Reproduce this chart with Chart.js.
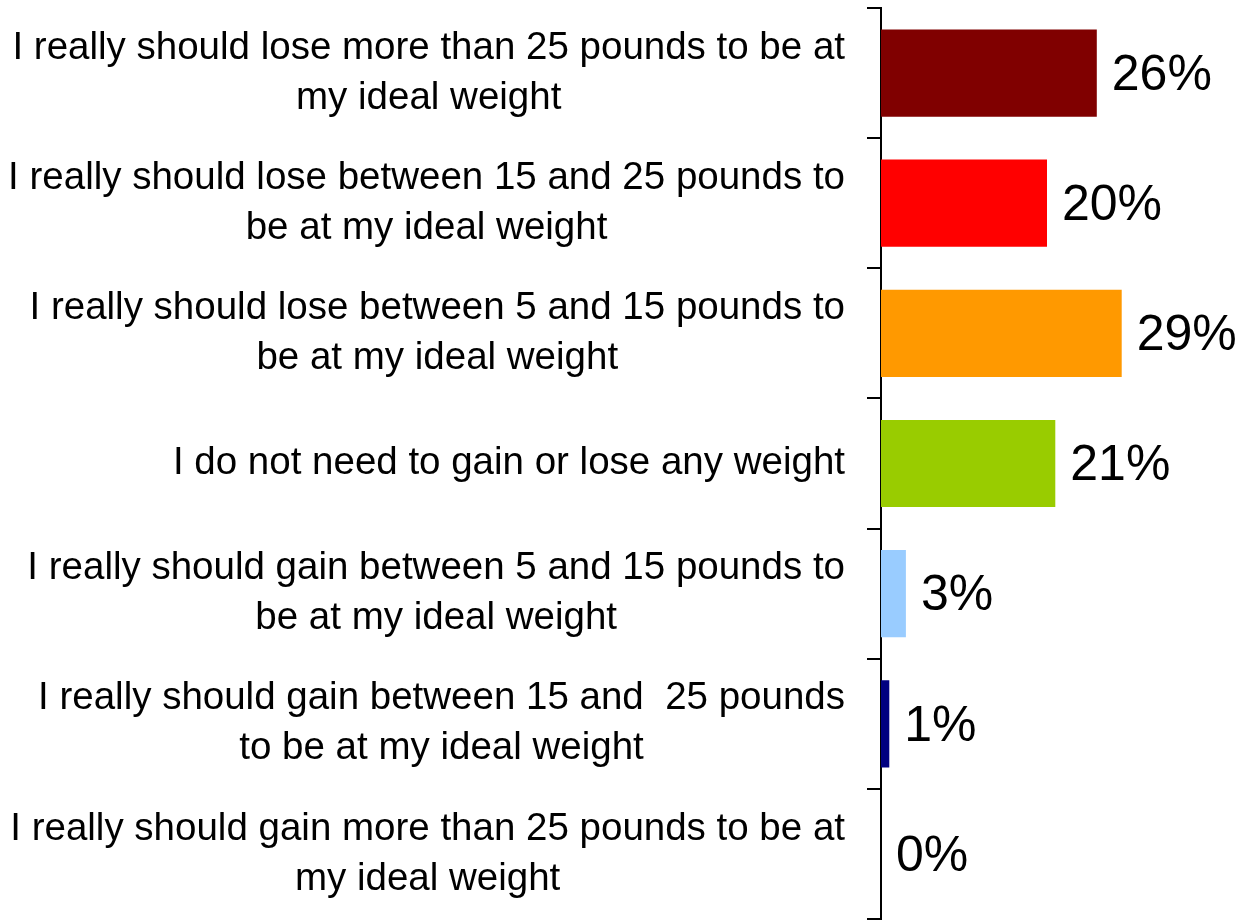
<!DOCTYPE html>
<html>
<head>
<meta charset="utf-8">
<script src="https://cdn.jsdelivr.net/npm/chart.js@4/dist/chart.umd.min.js"></script>
<style>
html,body{margin:0;padding:0;background:#fff;}
#wrap{width:1246px;height:921px;position:relative;}
</style>
</head>
<body>
<div id="wrap"><canvas id="c" width="1246" height="921"></canvas></div>
<script>
const categories = [
  ["I really should lose more than 25 pounds to be at", "my ideal weight"],
  ["I really should lose between 15 and 25 pounds to", "be at my ideal weight"],
  ["I really should lose between 5 and 15 pounds to", "be at my ideal weight"],
  ["I do not need to gain or lose any weight"],
  ["I really should gain between 5 and 15 pounds to", "be at my ideal weight"],
  ["I really should gain between 15 and  25 pounds", "to be at my ideal weight"],
  ["I really should gain more than 25 pounds to be at", "my ideal weight"]
];
const values = [26, 20, 29, 21, 3, 1, 0];
const valueLabels = ["26%", "20%", "29%", "21%", "3%", "1%", "0%"];
const barColors = ["#800000", "#FF0000", "#FF9900", "#99CC00", "#99CCFF", "#000080", "#666699"];

const FONT = '"Liberation Sans", Arial, sans-serif';

const categoryLabelPlugin = {
  id: 'categoryLabels',
  afterDraw(chart) {
    const ctx = chart.ctx;
    const scale = chart.scales.y;
    const rightEdge = scale.right - 14 - 22;
    const lh = 50;
    ctx.save();
    ctx.font = '38.5px ' + FONT;
    ctx.fillStyle = '#000';
    ctx.textAlign = 'center';
    ctx.textBaseline = 'middle';
    chart.data.labels.forEach((lines, i) => {
      const y = scale.getPixelForTick(i);
      const w = Math.max(...lines.map(l => ctx.measureText(l).width));
      const cx = rightEdge - w / 2;
      const y0 = y - (lines.length - 1) * lh / 2;
      lines.forEach((l, k) => ctx.fillText(l, cx, y0 + k * lh));
    });
    ctx.restore();
  }
};

const valueLabelPlugin = {
  id: 'valueLabels',
  afterDatasetsDraw(chart) {
    const ctx = chart.ctx;
    const meta = chart.getDatasetMeta(0);
    ctx.save();
    ctx.font = '50px ' + FONT;
    ctx.fillStyle = '#000';
    ctx.textAlign = 'left';
    ctx.textBaseline = 'middle';
    meta.data.forEach((bar, i) => {
      ctx.fillText(valueLabels[i], bar.x + 15, bar.y + 3);
    });
    ctx.restore();
  }
};

new Chart(document.getElementById('c'), {
  type: 'bar',
  data: {
    labels: categories,
    datasets: [{
      data: values,
      backgroundColor: barColors,
      borderWidth: 0,
      categoryPercentage: 1,
      barPercentage: 0.67
    }]
  },
  plugins: [valueLabelPlugin, categoryLabelPlugin],
  options: {
    indexAxis: 'y',
    responsive: false,
    animation: false,
    layout: { padding: { top: 8, bottom: 2, left: 0, right: 116 } },
    plugins: { legend: { display: false }, tooltip: { enabled: false } },
    scales: {
      x: { display: false, min: 0, max: 30 },
      y: {
        afterFit(scale) {
          scale.width = 881;
          scale.paddingTop = 0;
          scale.paddingBottom = 0;
        },
        grid: {
          display: true,
          offset: true,
          drawOnChartArea: false,
          drawTicks: true,
          tickLength: 14,
          color: '#000',
          lineWidth: 2
        },
        border: { display: true, color: '#000', width: 2 },
        ticks: { display: false }
      }
    }
  }
});
</script>
</body>
</html>
